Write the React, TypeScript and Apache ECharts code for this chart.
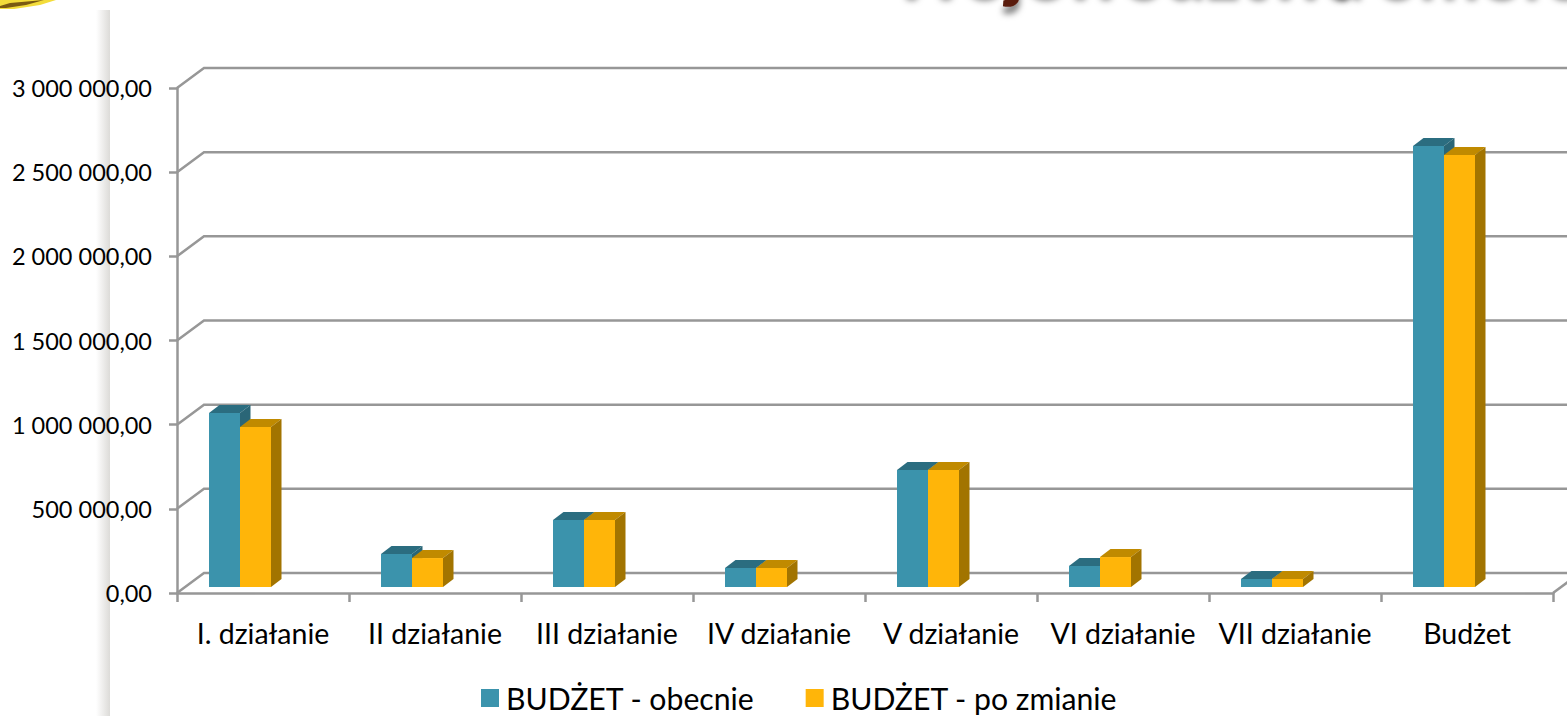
import React, { useEffect, useRef } from "react";
import * as echarts from "echarts";

const categories = ["I. działanie", "II działanie", "III działanie", "IV działanie", "V działanie", "VI działanie", "VII działanie", "Budżet"];
const currentBudget = [1034000, 196000, 398000, 113000, 695000, 125000, 48000, 2620000];
const changedBudget = [950000, 172000, 398000, 113000, 695000, 178000, 48000, 2566000];
const yTicks = [0, 500000, 1000000, 1500000, 2000000, 2500000, 3000000];
const yTickLabels = ["0,00", "500 000,00", "1 000 000,00", "1 500 000,00", "2 000 000,00", "2 500 000,00", "3 000 000,00"];
const seriesNames = ["BUDŻET - obecnie", "BUDŻET - po zmianie"];
const titleWords = ["Województwa", "Pomorskiego"];

const FONT = "Lato";
const LINE = "#979797";
const LINE_W = 2.5;
const BAR_W = 31;
const DEPTH_X = 10.5;
const DEPTH_Y = -8;
const BASE_SHIFT = -6;
const GROUP_SHIFT = -23;
const WALL_X = 27;
const WALL_Y = -20;

const makeBar = (slot: number, front: string, top: string, side: string) => (params: any, api: any) => {
  const c = api.coord([api.value(0), api.value(1)]);
  const base = api.coord([api.value(0), 0]);
  const x0 = c[0] + GROUP_SHIFT + (slot - 1) * BAR_W;
  const x1 = x0 + BAR_W;
  const yT = c[1] + BASE_SHIFT;
  const yB = base[1] + BASE_SHIFT;
  return {
    type: "group",
    children: [
      { type: "polygon", shape: { points: [[x0, yB], [x1, yB], [x1, yT], [x0, yT]] }, style: { fill: front } },
      { type: "polygon", shape: { points: [[x0, yT], [x1, yT], [x1 + DEPTH_X, yT + DEPTH_Y], [x0 + DEPTH_X, yT + DEPTH_Y]] }, style: { fill: top } },
      { type: "polygon", shape: { points: [[x1, yB], [x1 + DEPTH_X, yB + DEPTH_Y], [x1 + DEPTH_X, yT + DEPTH_Y], [x1, yT]] }, style: { fill: side } },
    ],
  };
};

const wallLine = (params: any, api: any) => {
  const c = api.coord([0, api.value(1)]);
  const band = api.size([1, 0])[0];
  const left = c[0] - band / 2;
  const right = left + band * categories.length;
  const y = c[1];
  const children: any[] = [
    {
      type: "polyline",
      shape: { points: [[left, y], [left + WALL_X, y + WALL_Y], [right + WALL_X, y + WALL_Y]] },
      style: { stroke: LINE, lineWidth: LINE_W, fill: "none" },
    },
  ];
  if (api.value(1) === 0) {
    children.push({
      type: "polyline",
      shape: { points: [[right, y], [right + WALL_X, y + WALL_Y]] },
      style: { stroke: LINE, lineWidth: LINE_W, fill: "none" },
    });
  }
  return { type: "group", children };
};

const titlePiece = (text: string, x: number) => ({
  type: "text",
  z: -8,
  silent: true,
  x,
  y: -36,
  style: {
    text,
    font: "bold 74px Lato",
    fill: "#5a1f0f",
    textVerticalAlign: "middle",
    textShadowBlur: 6,
    textShadowColor: "rgba(0,0,0,0.5)",
    textShadowOffsetX: 0,
    textShadowOffsetY: 7,
  },
});

export default function App() {
  const ref = useRef<HTMLDivElement>(null);
  useEffect(() => {
    document.body.style.margin = "0";
    document.body.style.overflow = "hidden";
    const chart = echarts.init(ref.current!, null, { renderer: "svg" });
    chart.setOption({
      animation: false,
      textStyle: { fontFamily: FONT },
      grid: { left: 177, right: 14, top: 88, bottom: 123 },
      legend: {
        data: seriesNames,
        left: 481,
        top: 683,
        padding: 0,
        itemWidth: 18,
        itemHeight: 18,
        itemGap: 51,
        icon: "rect",
        textStyle: { fontFamily: FONT, fontSize: 30.2, color: "#000", padding: [0, 0, 0, 2] },
      },
      xAxis: {
        type: "category",
        data: categories,
        axisLine: { show: true, lineStyle: { color: LINE, width: LINE_W } },
        axisTick: { show: true, length: 9, lineStyle: { color: LINE, width: LINE_W } },
        axisLabel: { fontFamily: FONT, fontSize: 28.5, color: "#000", margin: 25, interval: 0 },
        splitLine: { show: false },
      },
      yAxis: {
        type: "value",
        min: 0,
        max: 3000000,
        interval: 500000,
        axisLine: { show: true, lineStyle: { color: LINE, width: LINE_W } },
        axisTick: { show: true, length: 8, lineStyle: { color: LINE, width: LINE_W } },
        axisLabel: {
          fontFamily: FONT,
          fontSize: 23.5,
          color: "#000",
          margin: 25,
          formatter: (v: number) => yTickLabels[yTicks.indexOf(v)],
        },
        splitLine: { show: false },
      },
      graphic: [
        {
          type: "rect",
          z: -10,
          silent: true,
          shape: { x: 96, y: 10, width: 14, height: 706 },
          style: {
            fill: new echarts.graphic.LinearGradient(0, 0, 1, 0, [
              { offset: 0, color: "#ffffff" },
              { offset: 1, color: "#dcdbd8" },
            ]),
          },
        },
        {
          type: "polygon",
          z: -10,
          silent: true,
          shape: { points: [[0, 0], [56, 0], [40, 5], [14, 9], [0, 9]] },
          style: { fill: "#f3dc3a" },
        },
        {
          type: "polygon",
          z: -9,
          silent: true,
          shape: { points: [[10, 3], [44, 0], [26, 5], [6, 8], [0, 8], [0, 6]] },
          style: { fill: "#7a5a12" },
        },
        titlePiece(titleWords[0], 890),
        titlePiece(titleWords[1], 1332),
      ],
      series: [
        {
          type: "custom",
          name: "back wall",
          silent: true,
          z: 1,
          renderItem: wallLine,
          encode: { x: 0, y: 1 },
          data: yTicks.map((v) => [0, v]),
        },
        {
          type: "custom",
          name: seriesNames[0],
          z: 3,
          renderItem: makeBar(0, "#3b93ac", "#2b6d80", "#2a6677"),
          itemStyle: { color: "#3b93ac" },
          encode: { x: 0, y: 1 },
          data: currentBudget.map((v, i) => [i, v]),
        },
        {
          type: "custom",
          name: seriesNames[1],
          z: 4,
          renderItem: makeBar(1, "#ffb509", "#c08a00", "#a27400"),
          itemStyle: { color: "#ffb509" },
          encode: { x: 0, y: 1 },
          data: changedBudget.map((v, i) => [i, v]),
        },
      ],
    });
    return () => chart.dispose();
  }, []);
  return <div ref={ref} style={{ position: "absolute", left: 0, top: 0, width: 1567, height: 716 }} />;
}
